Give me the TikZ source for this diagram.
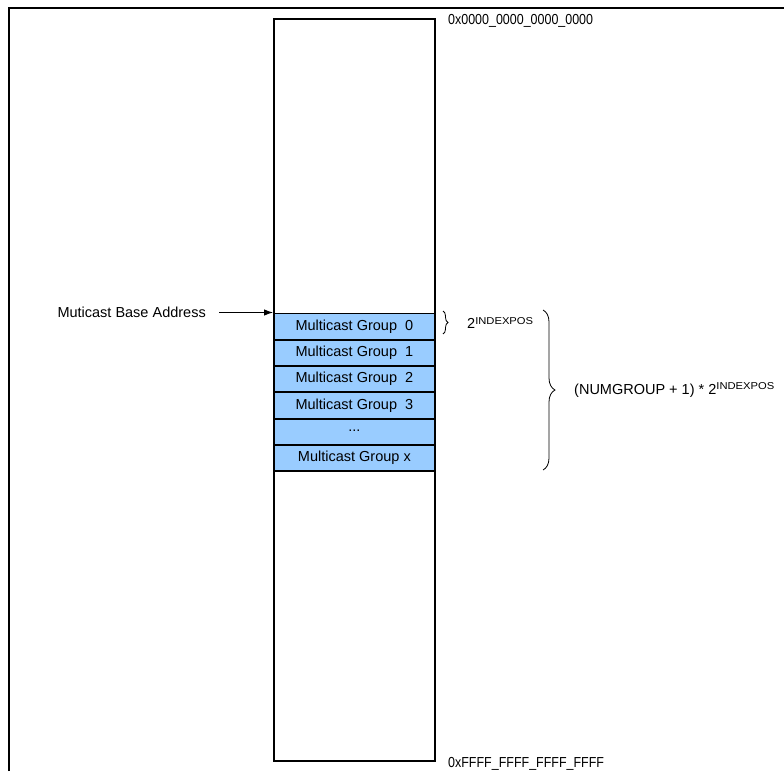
\documentclass[tikz,border=0pt]{standalone}
\usepackage{fontspec}
\setmainfont{Liberation Sans}
\usetikzlibrary{arrows.meta,decorations.pathreplacing}
\definecolor{grp}{HTML}{99CCFF}
\newcommand{\supx}[1]{\raisebox{4.5pt}{\scalebox{1.12}[1]{\fontsize{10}{11}\selectfont #1}}}
\newcommand{\narrowtxt}[1]{\scalebox{0.86}[1]{#1}}
\begin{document}
\begin{tikzpicture}[x=1pt,y=-1pt,
  txt/.style={font=\fontsize{14.5}{16}\selectfont, inner sep=0pt},
  addrtxt/.style={font=\fontsize{14.5}{16}\selectfont, inner sep=0pt},
  grpbox/.style={draw=black, line width=1.8pt, fill=grp, minimum width=161pt, minimum height=26.3pt, inner sep=0pt, font=\fontsize{14.5}{16}\selectfont, anchor=north west},
  brc/.style={decorate, decoration={brace, amplitude=#1}, line width=0.8pt}]
\useasboundingbox (0,0) rectangle (784,771);
% outer frame (top and left edges)
\draw[line width=1.6pt] (9,771) -- (9,8) -- (784,8);
% memory column
\node[draw=black, line width=1.8pt, minimum width=161pt, minimum height=742pt, inner sep=0pt, anchor=north west] (mem) at (273,18) {};
% groups
\node[grpbox] (g0) at (273,312.5) {Multicast Group\ \ 0};
\node[grpbox] (g1) at (273,338.8) {Multicast Group\ \ 1};
\node[grpbox] (g2) at (273,365.1) {Multicast Group\ \ 2};
\node[grpbox] (g3) at (273,391.4) {Multicast Group\ \ 3};
\node[grpbox] (gd) at (273,417.7) {\raisebox{3pt}{...}};
\node[grpbox] (gx) at (273,444.0) {Multicast Group x};
% addresses
\node[addrtxt, anchor=west] (top) at (448,21) {\narrowtxt{0x0000\_0000\_0000\_0000}};
\node[addrtxt, anchor=west] (bot) at (448,764) {\narrowtxt{0xFFFF\_FFFF\_FFFF\_FFFF}};
% base address
\node[txt, anchor=east] (base) at (206,312.5) {Muticast Base Address};
\coordinate (arrs) at (219,312.5);
\draw[line width=0.9pt, -{Latex[length=9pt,width=6.5pt]}] (arrs) -- (g0.north west);
% small brace
\coordinate (b1a) at (443,311);
\coordinate (b1b) at (443,334);
\draw[brc=5pt] (b1a) -- (b1b);
\node[txt, anchor=west] (l1) at (467,323) {2\supx{INDEXPOS}};
% big brace
\coordinate (b2a) at (543,310);
\coordinate (b2b) at (543,470);
\draw[brc=12pt] (b2a) -- (b2b);
\node[txt, anchor=west] (l2) at (574,390) {(NUMGROUP + 1) * 2\supx{INDEXPOS}};
\end{tikzpicture}
\end{document}
